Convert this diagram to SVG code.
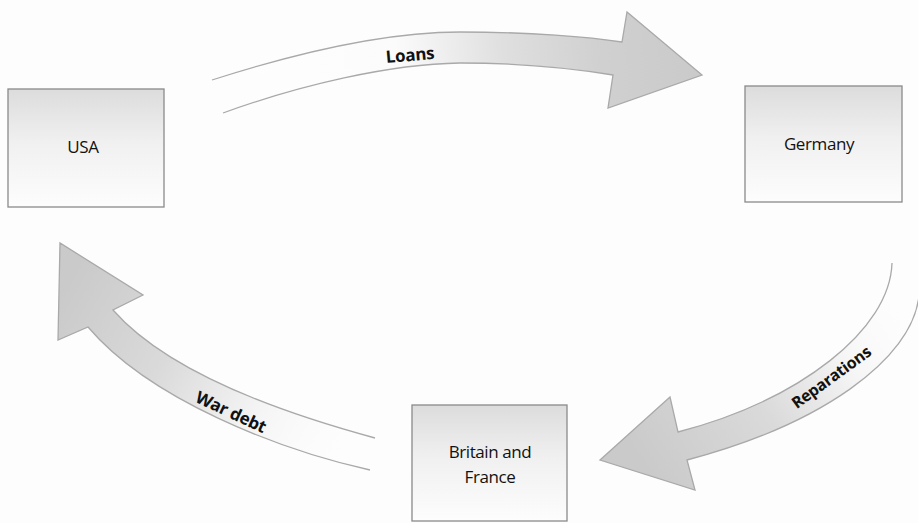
<svg xmlns="http://www.w3.org/2000/svg" width="918" height="523" viewBox="0 0 918 523">
  <style>
    .box { stroke: #8a8a8a; stroke-width: 1.3; fill: url(#boxGrad); }
    .node-label { font-family: "Open Sans", "Noto Sans", sans-serif; font-size: 17px; fill: #111; text-anchor: middle; letter-spacing: -0.4px; }
    .arrow { stroke: #a9a9a9; stroke-width: 1.3; stroke-linejoin: miter; }
    .arrow-label { font-family: "Open Sans", "Noto Sans", sans-serif; font-weight: bold; fill: #111; text-anchor: middle; letter-spacing: -0.3px; }
  </style>
  <defs>
    <linearGradient id="boxGrad" x1="0" y1="0" x2="0" y2="1">
      <stop offset="0" stop-color="#dcdcdc"/>
      <stop offset="0.45" stop-color="#f0f0f0"/>
      <stop offset="1" stop-color="#fdfdfd"/>
    </linearGradient>
    <linearGradient id="loansGrad" gradientUnits="userSpaceOnUse" x1="212" y1="90" x2="700" y2="60">
      <stop offset="0" stop-color="#ffffff" stop-opacity="0"/>
      <stop offset="0.38" stop-color="#fbfbfb"/>
      <stop offset="0.6" stop-color="#dfdfdf"/>
      <stop offset="0.8" stop-color="#d0d0d0"/>
      <stop offset="1" stop-color="#cacaca"/>
    </linearGradient>
    <linearGradient id="repGrad" gradientUnits="userSpaceOnUse" x1="905" y1="270" x2="640" y2="460">
      <stop offset="0" stop-color="#ffffff" stop-opacity="0"/>
      <stop offset="0.3" stop-color="#f6f6f6"/>
      <stop offset="0.6" stop-color="#dadada"/>
      <stop offset="1" stop-color="#cacaca"/>
    </linearGradient>
    <linearGradient id="warGrad" gradientUnits="userSpaceOnUse" x1="372" y1="455" x2="70" y2="280">
      <stop offset="0" stop-color="#ffffff" stop-opacity="0"/>
      <stop offset="0.35" stop-color="#f4f4f4"/>
      <stop offset="0.65" stop-color="#dadada"/>
      <stop offset="1" stop-color="#cacaca"/>
    </linearGradient>
  </defs>

  <rect x="0" y="0" width="918" height="523" fill="#fdfdfd"/>

  <g id="connectors">
    <g id="loans">
      <path class="arrow" fill="url(#loansGrad)" d="M212,80 C290,55 380,32 460,32 C530,32 590,37 622,42 L627,12 L702,75 L608,108 L613,75 C570,68 520,63 460,63 C390,64 300,85 223,113"/>
      <text class="arrow-label" font-size="17" transform="translate(410,55) rotate(-5)" x="0" y="6">Loans</text>
    </g>
    <g id="reparations">
      <path class="arrow" fill="url(#repGrad)" d="M892,263 C890,330 800,400 678,432 L670,397 L600,460 L695,490 L687,460 C820,425 912,360 919,296"/>
      <text class="arrow-label" font-size="16" transform="translate(831,377) rotate(-36)" x="0" y="6">Reparations</text>
    </g>
    <g id="war-debt">
      <path class="arrow" fill="url(#warGrad)" d="M375,438 C290,415 170,375 113,310 L143,295 L60,243 L58,340 L88,327 C150,400 280,450 370,470"/>
      <text class="arrow-label" font-size="17" transform="translate(231,412) rotate(25)" x="0" y="6">War debt</text>
    </g>
  </g>

  <g id="usa">
    <rect class="box" x="8" y="89" width="156" height="118"/>
    <text class="node-label" x="83" y="153">USA</text>
  </g>
  <g id="germany">
    <rect class="box" x="745" y="86" width="157" height="116"/>
    <text class="node-label" x="819" y="150">Germany</text>
  </g>
  <g id="britain-france">
    <rect class="box" x="412" y="405" width="155" height="116"/>
    <text class="node-label" x="490" y="458">Britain and</text>
    <text class="node-label" x="490" y="483">France</text>
  </g>
</svg>
